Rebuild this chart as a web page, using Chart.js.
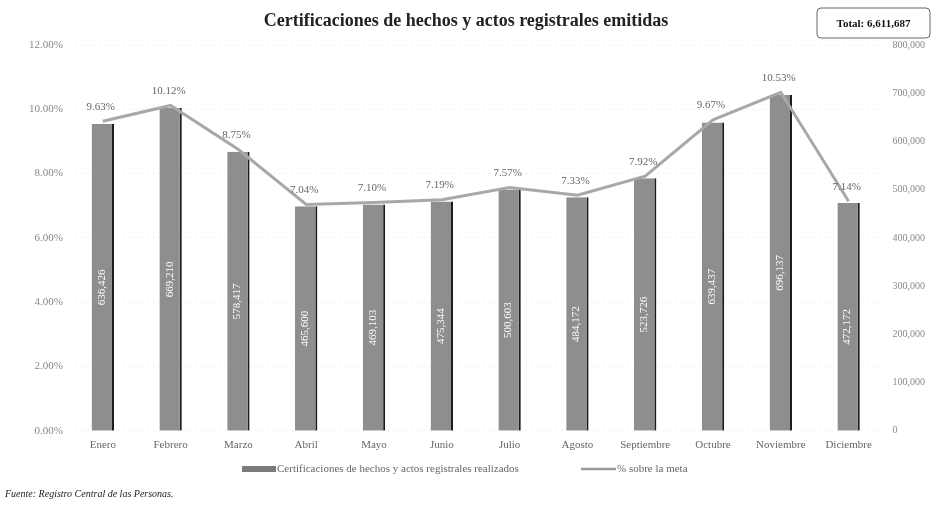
<!DOCTYPE html>
<html>
<head>
<meta charset="utf-8">
<script src="https://cdn.jsdelivr.net/npm/chart.js@4"></script>
<style>
html,body{margin:0;padding:0;background:#fff;}
#wrap{width:934px;height:509px;position:relative;}
</style>
</head>
<body>
<div id="wrap"><canvas id="c" width="934" height="509"></canvas></div>
<script>
const months = ['Enero','Febrero','Marzo','Abril','Mayo','Junio','Julio','Agosto','Septiembre','Octubre','Noviembre','Diciembre'];
const certificaciones = [636426, 669210, 578417, 465600, 469103, 475344, 500603, 484172, 523726, 639437, 696137, 472172];
const pctMeta = [9.63, 10.12, 8.75, 7.04, 7.10, 7.19, 7.57, 7.33, 7.92, 9.67, 10.53, 7.14];
const titleText = 'Certificaciones de hechos y actos registrales emitidas';
const totalText = 'Total: 6,611,687';
const sourceText = 'Fuente: Registro Central de las Personas.';
const barLegend = 'Certificaciones de hechos y actos registrales realizados';
const lineLegend = '% sobre la meta';

const SERIF = '"Liberation Serif", "DejaVu Serif", serif';
const fmt = n => n.toLocaleString('en-US');

const extras = {
  id: 'extras',
  afterDatasetsDraw(chart) {
    const ctx = chart.ctx;
    const barMeta = chart.getDatasetMeta(0);
    ctx.save();
    ctx.fillStyle = '#ffffff';
    ctx.font = '11px ' + SERIF;
    ctx.textAlign = 'center';
    ctx.textBaseline = 'middle';
    barMeta.data.forEach((b, i) => {
      const y = (b.y + b.base) / 2 + 10;
      ctx.save();
      ctx.translate(b.x - 1, y);
      ctx.rotate(-Math.PI / 2);
      ctx.fillText(fmt(certificaciones[i]), 0, 0);
      ctx.restore();
    });
    const lineMeta = chart.getDatasetMeta(1);
    ctx.fillStyle = '#666';
    ctx.font = '11px ' + SERIF;
    ctx.textBaseline = 'bottom';
    lineMeta.data.forEach((p, i) => {
      ctx.fillText(pctMeta[i].toFixed(2) + '%', p.x - 2, p.y - 9);
    });
    ctx.restore();
  },
  afterDraw(chart) {
    const ctx = chart.ctx;
    ctx.save();
    ctx.fillStyle = '#222';
    ctx.font = 'bold 18px ' + SERIF;
    ctx.textAlign = 'center';
    ctx.textBaseline = 'middle';
    ctx.fillText(titleText, 466, 21);
    ctx.strokeStyle = '#666';
    ctx.lineWidth = 1;
    const bx = 817, by = 8, bw = 113, bh = 30, r = 4;
    ctx.beginPath();
    ctx.moveTo(bx + r, by);
    ctx.lineTo(bx + bw - r, by); ctx.quadraticCurveTo(bx + bw, by, bx + bw, by + r);
    ctx.lineTo(bx + bw, by + bh - r); ctx.quadraticCurveTo(bx + bw, by + bh, bx + bw - r, by + bh);
    ctx.lineTo(bx + r, by + bh); ctx.quadraticCurveTo(bx, by + bh, bx, by + bh - r);
    ctx.lineTo(bx, by + r); ctx.quadraticCurveTo(bx, by, bx + r, by);
    ctx.stroke();
    ctx.fillStyle = '#111';
    ctx.font = 'bold 11px ' + SERIF;
    ctx.fillText(totalText, bx + bw / 2, by + bh / 2 + 1);
    ctx.font = '11px ' + SERIF;
    ctx.textAlign = 'left';
    const ly = 469;
    ctx.fillStyle = '#7a7a7a';
    ctx.fillRect(242, ly - 3, 34, 6);
    ctx.fillStyle = '#666';
    ctx.fillText(barLegend, 277, ly);
    ctx.strokeStyle = '#9a9a9a';
    ctx.lineWidth = 2.5;
    ctx.beginPath(); ctx.moveTo(581, ly); ctx.lineTo(616, ly); ctx.stroke();
    ctx.fillText(lineLegend, 617, ly);
    ctx.fillStyle = '#222';
    ctx.font = 'italic 10px ' + SERIF;
    ctx.fillText(sourceText, 5, 494);
    ctx.restore();
  }
};

new Chart(document.getElementById('c'), {
  type: 'bar',
  data: {
    labels: months,
    datasets: [
      {
        type: 'bar',
        label: barLegend,
        data: certificaciones,
        yAxisID: 'yR',
        backgroundColor: '#8e8e8e',
        borderColor: '#1c1c1c',
        borderWidth: {left: 0, right: 2, top: 0, bottom: 0},
        borderSkipped: false,
        barPercentage: 0.33,
        categoryPercentage: 1.0,
        order: 2
      },
      {
        type: 'line',
        label: lineLegend,
        data: pctMeta,
        yAxisID: 'yL',
        borderColor: '#a8a8a8',
        borderWidth: 3,
        pointRadius: 0,
        tension: 0,
        fill: false,
        order: 1
      }
    ]
  },
  options: {
    responsive: false,
    animation: false,
    layout: {padding: {top: 45, bottom: 57, left: 23, right: 7}},
    plugins: {legend: {display: false}, title: {display: false}, tooltip: {enabled: false}},
    scales: {
      x: {
        grid: {display: false},
        border: {display: false},
        ticks: {color: '#666', font: {family: SERIF, size: 11}, maxRotation: 0, autoSkip: false, padding: 0}
      },
      yL: {
        position: 'left',
        min: 0, max: 12,
        ticks: {stepSize: 2, color: '#888', font: {family: SERIF, size: 11}, padding: 6,
          callback: v => v.toFixed(2) + '%'},
        grid: {color: 'rgba(0,0,0,0.07)', drawTicks: false},
        border: {display: false, dash: [2, 4]}
      },
      yR: {
        position: 'right',
        min: 0, max: 800000,
        ticks: {stepSize: 100000, color: '#888', font: {family: SERIF, size: 10}, padding: 2,
          callback: v => fmt(v)},
        grid: {display: false},
        border: {display: false}
      }
    }
  },
  plugins: [extras]
});
</script>
</body>
</html>
